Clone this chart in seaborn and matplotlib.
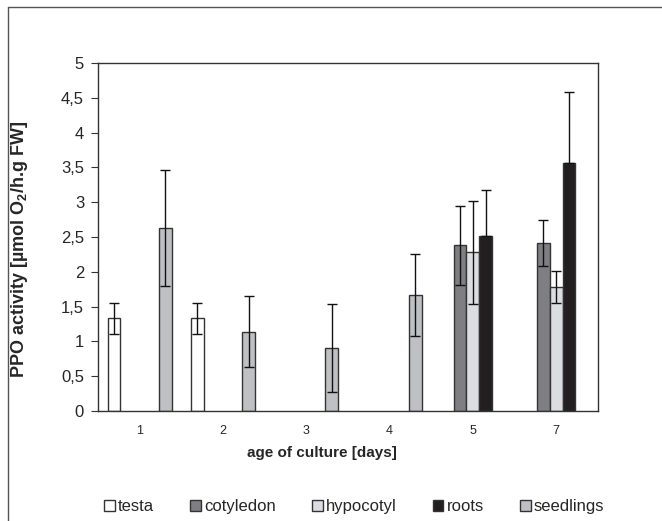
import numpy as np
import pandas as pd
import seaborn as sns
import matplotlib.pyplot as plt
from matplotlib.lines import Line2D
from matplotlib.patches import Patch

# data
days = ["1", "2", "3", "4", "5", "7"]
organs = ["testa", "cotyledon", "hypocotyl", "roots", "seedlings"]
testa = [1.33, 1.33, np.nan, np.nan, np.nan, np.nan]
testa_err = [0.22, 0.22, np.nan, np.nan, np.nan, np.nan]
cotyledon = [np.nan, np.nan, np.nan, np.nan, 2.38, 2.41]
cotyledon_err = [np.nan, np.nan, np.nan, np.nan, 0.57, 0.33]
hypocotyl = [np.nan, np.nan, np.nan, np.nan, 2.28, 1.78]
hypocotyl_err = [np.nan, np.nan, np.nan, np.nan, 0.74, 0.23]
roots = [np.nan, np.nan, np.nan, np.nan, 2.52, 3.57]
roots_err = [np.nan, np.nan, np.nan, np.nan, 0.66, 1.02]
seedlings = [2.63, 1.14, 0.91, 1.67, np.nan, np.nan]
seedlings_err = [0.83, 0.51, 0.63, 0.59, np.nan, np.nan]
yticklabels = ["0", "0,5", "1", "1,5", "2", "2,5", "3", "3,5", "4", "4,5", "5"]

colors = ["#ffffff", "#7f7f83", "#dcdde0", "#231f20", "#bfc0c4"]

vals = dict(zip(organs, [testa, cotyledon, hypocotyl, roots, seedlings]))
errs = dict(zip(organs, [testa_err, cotyledon_err, hypocotyl_err, roots_err, seedlings_err]))

rows = []
for o in organs:
    for d, v, e in zip(days, vals[o], errs[o]):
        if not np.isnan(v):
            rows.append({"day": d, "organ": o, "value": v, "err": e})
df = pd.DataFrame(rows)

sns.set_style("white")
plt.rcParams["font.family"] = ["Liberation Sans", "DejaVu Sans"]
plt.rcParams["mathtext.fontset"] = "custom"
plt.rcParams["mathtext.bf"] = "Liberation Sans:bold"
plt.rcParams["mathtext.rm"] = "Liberation Sans"

fig = plt.figure(figsize=(6.62, 5.21), dpi=100)
ax = fig.add_axes([0.148, 0.211, 0.755, 0.668])

sns.barplot(data=df, x="day", y="value", hue="organ", order=days,
            hue_order=organs, palette=colors, width=0.77, errorbar=None,
            edgecolor="#333333", linewidth=1.0, saturation=1, legend=False, ax=ax)

# error bars from the given values, placed on the drawn bars
for o, cont in zip(organs, ax.containers):
    for p in cont.patches:
        xc = p.get_x() + p.get_width() / 2
        i = int(round(xc))
        e = errs[o][i]
        if np.isnan(e):
            continue
        # the lower half is invisible on the black root bars
        yerr = [[0], [e]] if o == "roots" else e
        ax.errorbar(xc, p.get_height(), yerr=yerr, fmt="none", ecolor="#111111",
                    elinewidth=1.0, capsize=3.5, capthick=1.0, zorder=5)

ax.set_xlim(-0.5, 5.5)
ax.set_ylim(0, 5)
ax.set_yticks(np.arange(0, 5.01, 0.5))
ax.set_yticklabels(yticklabels, fontsize=12)
ax.set_xticks(range(len(days)))
ax.set_xticklabels(days, fontsize=9)
ax.set_xticks(np.arange(0.5, 5.0, 1.0), minor=True)
ax.tick_params(axis="x", which="major", length=0, pad=10)
ax.tick_params(axis="x", which="minor", direction="in", length=4, width=0.8, color="#333333")
ax.tick_params(axis="y", which="major", direction="out", length=5, width=0.8,
               color="#333333", left=True, pad=5)
for s in ax.spines.values():
    s.set_visible(True)
    s.set_color("#333333")
    s.set_linewidth(1.0)

ax.set_xlabel("age of culture [days]", fontsize=11, fontweight="bold")
ax.xaxis.set_label_coords(0.448, -0.10)
ax.set_ylabel(r"PPO activity [µmol O$_{\mathbf{2}}$/h.g FW]", fontsize=13,
              fontweight="bold")
ax.yaxis.set_label_coords(-0.136, 0.463)

handles = [Patch(facecolor=c, edgecolor="#333333", linewidth=1.0) for c in colors]
fig.legend(handles, organs, loc="center", bbox_to_anchor=(0.535, 0.027), ncol=5,
           frameon=False, fontsize=12, handlelength=0.65, handleheight=0.65,
           handletextpad=0.2, columnspacing=2.15, borderpad=0.2)

# outer frame (top and left edges)
fig.add_artist(Line2D([0.012, 1.0], [0.987, 0.987], color="#555555", lw=1.0))
fig.add_artist(Line2D([0.012, 0.012], [0.0, 0.987], color="#555555", lw=1.0))

fig.savefig("out.png", dpi=100)
